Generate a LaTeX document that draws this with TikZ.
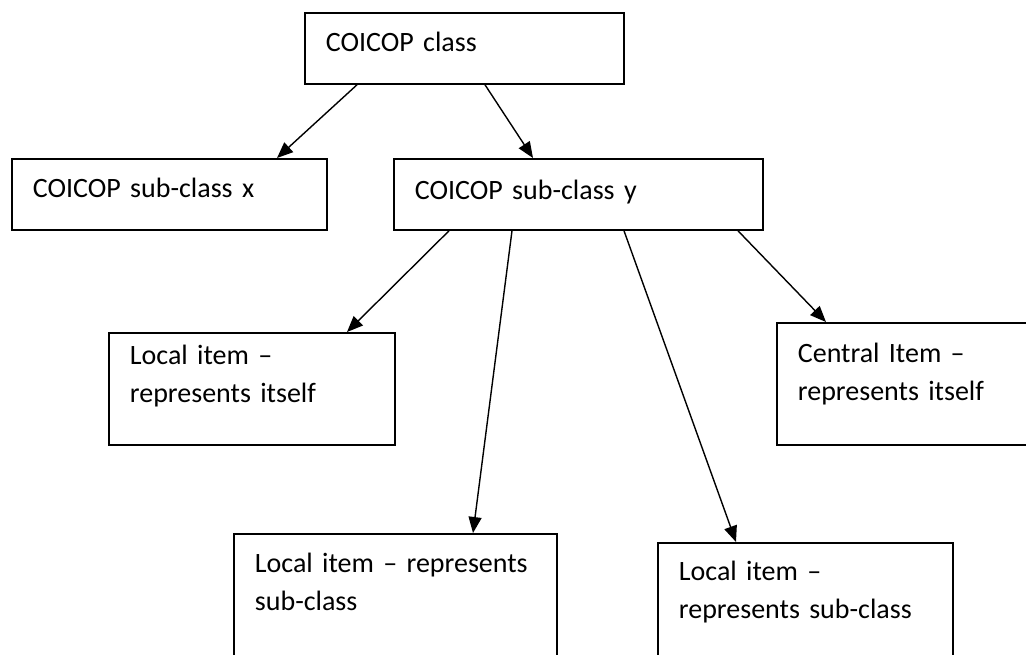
\documentclass[tikz,border=0pt]{standalone}
\usepackage{fontspec}
\setmainfont{Carlito}
\usetikzlibrary{arrows.meta}
\tikzset{
  box/.style={draw,line width=1.8pt,anchor=north west,align=left,
    inner xsep=21pt,inner ysep=0pt,text height=39pt,
    font=\fontsize{28}{38}\selectfont},
  link/.style={line width=1.4pt,-{Triangle[length=16pt,width=13pt]}}
}
\begin{document}
\begin{tikzpicture}[x=1pt,y=-1pt]
\useasboundingbox (0,0) rectangle (1026,654);
\clip (0,0) rectangle (1026,654);
%
\node[box,text width=277pt,text depth=32pt] (class) at (304,12) {COICOP class};
\node[box,text width=273pt,text depth=32pt] (subx) at (11,158) {COICOP sub-class x};
\node[box,text width=327pt,text height=41pt,text depth=30pt] (suby) at (393,158) {COICOP sub-class y};
%
\node[box,text width=244pt,text height=32pt,text depth=80pt] (itself) at (108,332)
  {Local item --\\represents itself};
\node[box,text width=258pt,text height=40pt,text depth=82pt] (central) at (776,322)
  {Central Item --\\represents itself};
\node[box,text width=281pt,text depth=121pt] (subA) at (233,533)
  {Local item -- represents\\sub-class};
\node[box,text width=253pt,text height=38pt,text depth=122pt] (subB) at (657,542)
  {Local item --\\represents sub-class};
%
\draw[link] ([xshift=53pt]class.south west) -- ([xshift=266pt]subx.north west);
\draw[link] ([xshift=181pt]class.south west) -- ([xshift=140pt]suby.north west);
\draw[link] ([xshift=56pt]suby.south west) -- ([xshift=239pt]itself.north west);
\draw[link] ([xshift=119pt]suby.south west) -- ([xshift=240pt]subA.north west);
\draw[link] ([xshift=231pt]suby.south west) -- ([xshift=79pt]subB.north west);
\draw[link] ([xshift=345pt]suby.south west) -- ([xshift=50pt]central.north west);
%
\end{tikzpicture}
\end{document}
